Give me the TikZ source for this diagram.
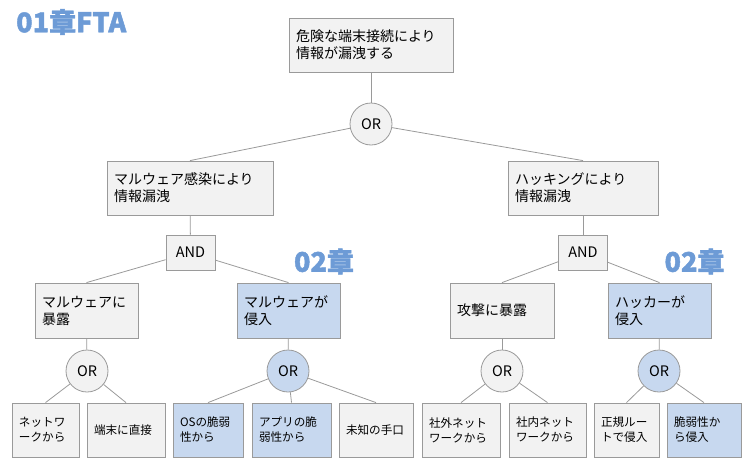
\documentclass[tikz,border=0pt]{standalone}
\usepackage{fontspec}
\setmainfont{Noto Sans CJK JP}
\newfontfamily\titlefont[BoldFeatures={FakeBold=1.6}]{Noto Sans CJK JP}
\definecolor{linec}{HTML}{9A9A9A}
\definecolor{grayf}{HTML}{F2F2F2}
\definecolor{bluef}{HTML}{C7D8EF}
\definecolor{titlec}{HTML}{6D9BD6}
\tikzset{
  bx/.style={draw=linec, fill=grayf, line width=0.8pt, inner xsep=7pt, inner ysep=0pt,
    minimum height=54pt, align=left, text width=#1, font=\fontsize{14}{17}\selectfont},
  leaf/.style={bx=#1, font=\fontsize{11.6}{15}\selectfont},
  blue/.style={fill=bluef},
  gate/.style={draw=linec, fill=grayf, line width=0.8pt, circle, minimum size=42pt, inner sep=0pt,
    font=\fontsize{14.5}{16}\selectfont},
  andg/.style={draw=linec, fill=grayf, line width=0.8pt, minimum width=49pt, minimum height=35pt,
    inner sep=0pt, font=\fontsize{14.5}{16}\selectfont},
  conn/.style={draw=linec, line width=0.8pt},
  ttl/.style={text=titlec, font=\fontsize{27}{30}\titlefont\bfseries, inner sep=0pt}
}
\begin{document}
\begin{tikzpicture}[x=1pt,y=-1pt]
\useasboundingbox (0,0) rectangle (742,458);
\node[ttl, anchor=west] (title) at (16,22) {01章FTA};
\node[ttl] (ch2a) at (324,261.5) {02章};
\node[ttl] (ch2b) at (694.5,261.5) {02章};

\node[bx=150] (top) at (371,45) {危険な端末接続により\\情報が漏洩する};
\node[gate] (orT) at (371,124) {OR};

\node[bx=152] (midL) at (190,188) {マルウェア感染により\\情報漏洩};
\node[bx=136] (midR) at (583,188) {ハッキングにより\\情報漏洩};

\node[andg] (andL) at (190.5,252.5) {AND};
\node[andg] (andR) at (583,252.5) {AND};

\node[bx=89, minimum height=55pt] (l3a) at (86.5,310.5) {マルウェアに\\暴露};
\node[bx=89, minimum height=55pt, blue] (l3b) at (288.5,310.5) {マルウェアが\\侵入};
\node[bx=90, minimum height=55pt] (l3c) at (502,310.5) {攻撃に暴露};
\node[bx=89, minimum height=55pt, blue] (l3d) at (659.5,310.5) {ハッカーが\\侵入};

\node[gate] (orA) at (87,371) {OR};
\node[gate, blue] (orB) at (288,371) {OR};
\node[gate] (orC) at (502,371) {OR};
\node[gate, blue] (orD) at (659,371) {OR};

\node[leaf=53] (f1) at (45.5,430) {ネットワ\\ークから};
\node[leaf=64] (f2) at (126,430) {端末に直接};
\node[leaf=56, blue] (f3) at (208,430) {OSの脆弱\\性から};
\node[leaf=65, blue] (f4) at (291.5,430) {アプリの脆\\弱性から};
\node[leaf=60] (f5) at (376,430) {未知の手口};
\node[leaf=64] (f6) at (461,430) {社外ネット\\ワークから};
\node[leaf=63] (f7) at (547.5,430) {社内ネット\\ワークから};
\node[leaf=51] (f8) at (626.5,430) {正規ルー\\トで侵入};
\node[leaf=60, blue] (f9) at (704,430) {脆弱性か\\ら侵入};

\path[conn] (top) -- (orT);
\path[conn] (orT) -- (midL.north);
\path[conn] (orT) -- (midR.north);
\path[conn] (midL) -- (andL);
\path[conn] (midR) -- (andR);
\path[conn] (andL) -- (l3a.north);
\path[conn] (andL) -- (l3b.north);
\path[conn] (andR) -- (l3c.north);
\path[conn] (andR) -- (l3d.north);
\path[conn] (l3a) -- (orA);
\path[conn] (l3b) -- (orB);
\path[conn] (l3c) -- (orC);
\path[conn] (l3d) -- (orD);
\path[conn] (orA) -- (f1.north);
\path[conn] (orA) -- (f2.north);
\path[conn] (orB) -- (f3.north);
\path[conn] (orB) -- (f4.north);
\path[conn] (orB) -- (f5.north);
\path[conn] (orC) -- (f6.north);
\path[conn] (orC) -- (f7.north);
\path[conn] (orD) -- (f8.north);
\path[conn] (orD) -- (f9.north);
\end{tikzpicture}
\end{document}
